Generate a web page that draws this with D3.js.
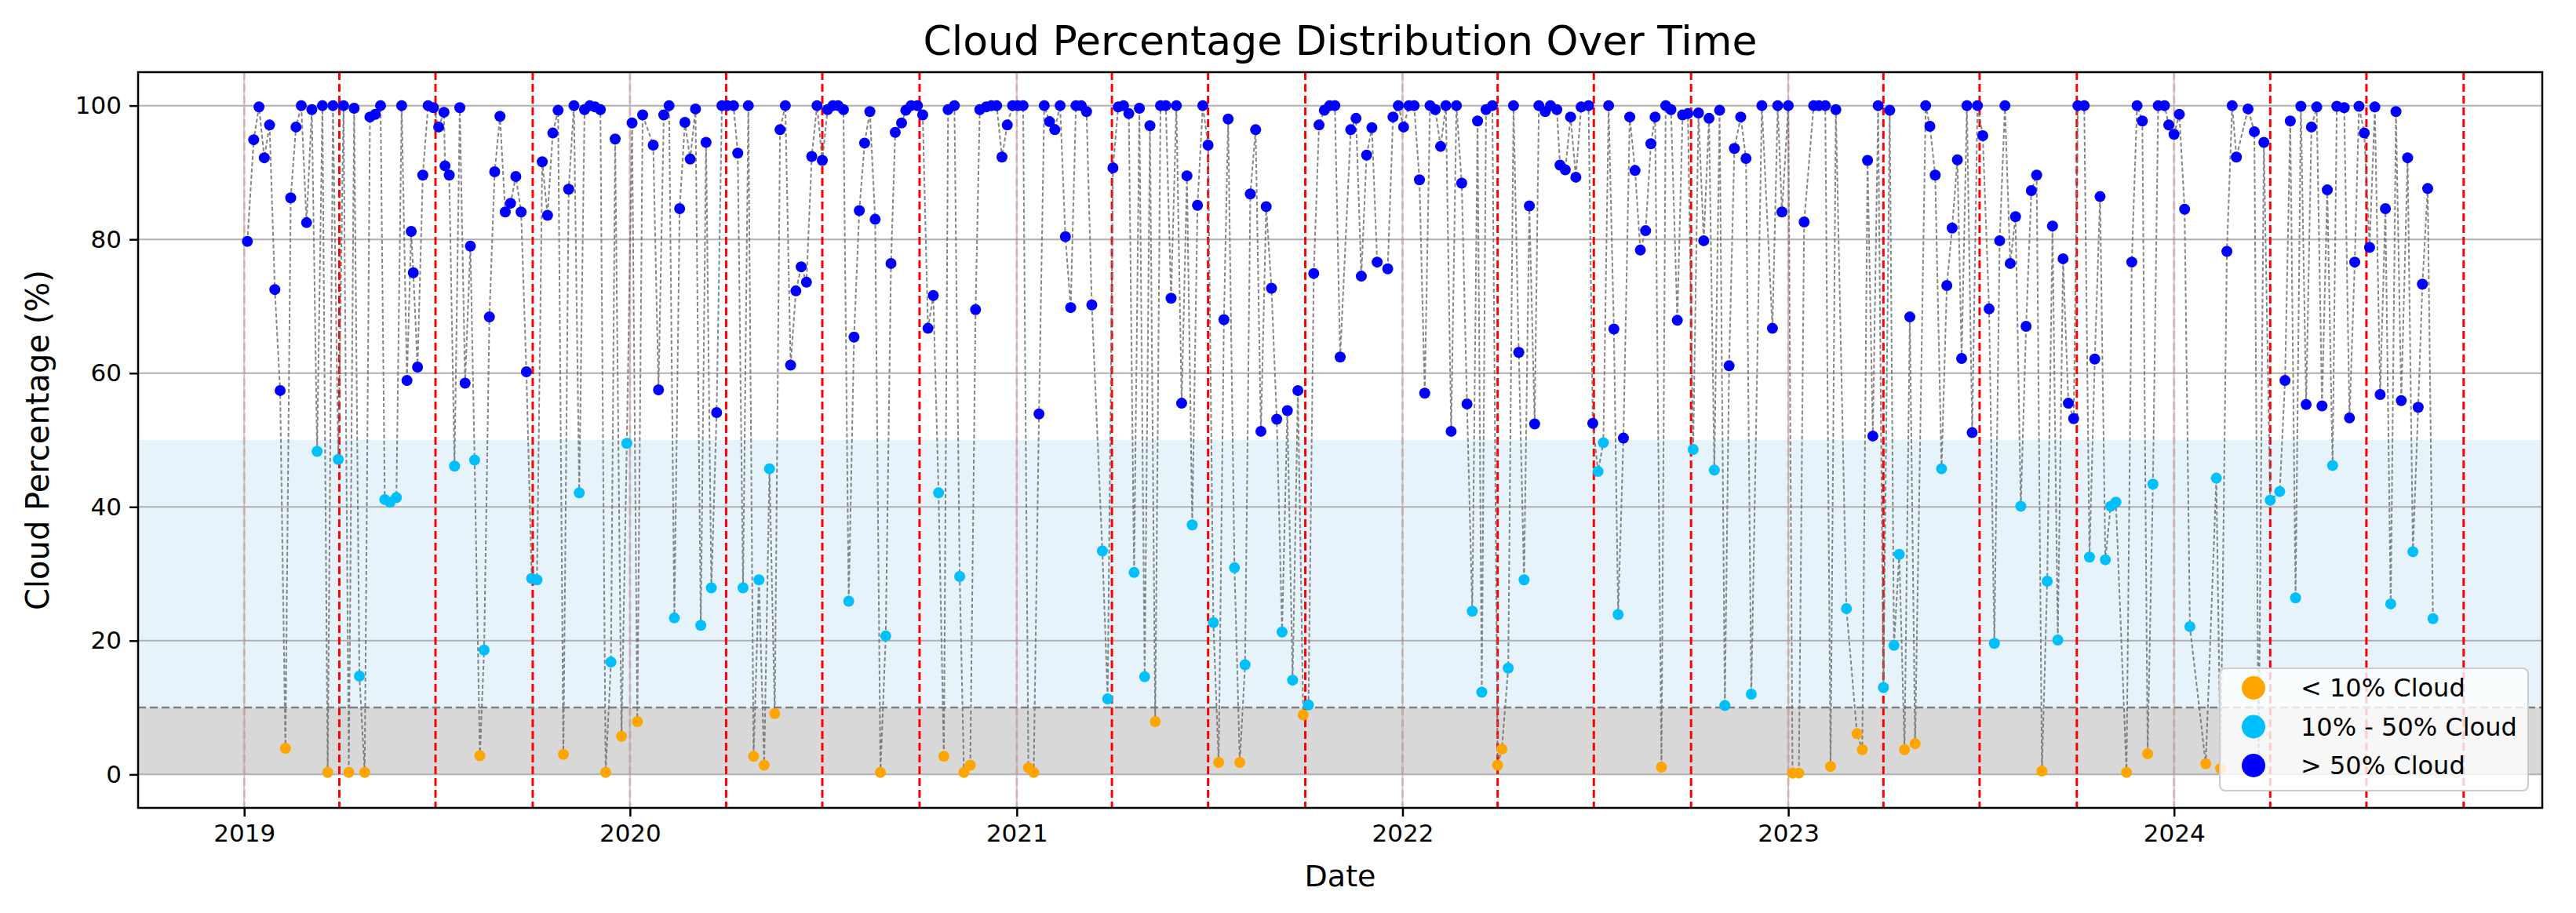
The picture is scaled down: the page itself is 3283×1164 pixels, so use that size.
<!DOCTYPE html>
<html>
<head>
<meta charset="utf-8">
<script src="https://cdn.jsdelivr.net/npm/d3@7"></script>
<style>
body { margin: 0; background: #fff; }
svg { display: block; }
text { font-family: "DejaVu Sans", sans-serif; fill: #000; }
</style>
</head>
<body>
<script>
// observations: [days since 2019-01-01, cloud %]
var startDate = new Date(2019, 0, 1);

var obs2019 = [[3,79.7],[9,94.9],[14,99.8],[19,92.2],[24,97.1],[29,72.5],[34,57.4],[39,3.9],[44,86.2],[49,96.8],[54,100],[59,82.5],[64,99.4],[69,48.3],[74,100],[79,0.3],[84,100],[89,47.1],[94,100],[99,0.3],[104,99.6],[109,14.7],[114,0.3],[119,98.3],[124,98.7],[129,100],[133,41.1],[138,40.7],[144,41.4],[149,100],[154,58.9],[158,81.2],[160,75.0],[164,60.9],[169,89.6],[174,100],[179,99.7],[184,96.8],[189,99.0],[190,91.0],[194,89.6],[199,46.1],[204,99.7],[209,58.5],[214,79.0],[218,47.0],[223,2.8],[227,18.6],[232,68.4],[237,90.1],[242,98.4],[247,84.1],[252,85.4],[257,89.4],[262,84.1],[267,60.2],[272,29.3],[277,29.1],[282,91.6],[287,83.6],[292,95.9],[297,99.3],[302,3.0],[307,87.5],[312,100],[317,42.1],[322,99.4],[327,100],[332,99.8],[337,99.4],[342,0.3],[347,16.8],[351,95.0],[357,5.7],[362,49.5]];

var obs2020 = [[367,97.4],[372,7.9],[377,98.6],[387,94.1],[392,57.5],[397,98.6],[402,100],[407,23.4],[412,84.6],[417,97.5],[422,92.0],[427,99.5],[432,22.3],[437,94.5],[442,27.9],[447,54.1],[452,100],[457,100],[463,100],[467,92.9],[472,27.9],[477,100],[482,2.7],[487,29.1],[492,1.4],[497,45.7],[502,9.1],[507,96.4],[512,100],[517,61.2],[522,72.3],[527,75.9],[532,73.6],[537,92.4],[542,100],[547,91.8],[552,99.4],[557,100],[562,100],[567,99.4],[572,25.9],[577,65.4],[582,84.3],[587,94.4],[592,99.1],[597,83.0],[602,0.3],[607,20.7],[612,76.4],[616,96.0],[622,97.4],[626,99.3],[631,100],[637,100],[642,98.6],[647,66.7],[652,71.6],[657,42.1],[662,2.7],[666,99.4],[672,100],[677,29.6],[681,0.3],[687,1.4],[692,69.5],[696,99.4],[702,99.8],[707,100],[712,100],[717,92.3],[722,97.1],[727,100]];

var obs2021 = [[732,100],[737,100],[742,1.0],[747,0.3],[752,53.9],[757,100],[762,97.6],[767,96.4],[772,100],[777,80.4],[782,69.8],[787,100],[792,100],[797,99.1],[802,70.2],[812,33.4],[817,11.3],[822,90.7],[827,99.8],[832,100],[837,98.8],[842,30.2],[847,99.6],[852,14.6],[857,97.0],[862,7.9],[867,100],[872,100],[877,71.2],[882,100],[887,55.5],[892,89.5],[897,37.3],[902,85.1],[907,100],[912,94.1],[917,22.7],[922,1.8],[927,68.0],[931,98.0],[937,30.9],[942,1.8],[947,16.4],[952,86.8],[957,96.4],[962,51.3],[967,84.9],[972,72.7],[977,53.1],[982,21.3],[987,54.4],[992,14.1],[997,57.4],[1002,8.9],[1007,10.4],[1012,74.9],[1017,97.1],[1022,99.3],[1027,100],[1032,100],[1037,62.4],[1047,96.4],[1052,98.1],[1057,74.5],[1062,92.6],[1067,96.7],[1072,76.6],[1082,75.6],[1087,98.3],[1092,100]];

var obs2022 = [[1097,96.8],[1102,100],[1107,100],[1112,88.9],[1117,57.0],[1122,100],[1127,99.4],[1132,93.9],[1137,100],[1142,51.3],[1147,100],[1152,88.4],[1157,55.4],[1162,24.4],[1167,97.7],[1171,12.3],[1175,99.4],[1181,100],[1186,1.4],[1190,3.8],[1196,15.9],[1201,100],[1206,63.1],[1211,29.1],[1216,85.0],[1221,52.4],[1225,100],[1231,99.1],[1236,100],[1242,99.4],[1245,91.1],[1250,90.4],[1255,98.3],[1260,89.3],[1265,99.8],[1272,100],[1276,52.5],[1281,45.3],[1286,49.6],[1291,100],[1296,66.6],[1300,23.9],[1305,50.3],[1311,98.3],[1316,90.3],[1321,78.4],[1326,81.3],[1331,94.3],[1335,98.3],[1341,1.1],[1345,100],[1350,99.4],[1356,67.9],[1361,98.6],[1366,98.8],[1371,48.6],[1376,98.9],[1381,79.8],[1386,98.1],[1391,45.5],[1396,99.3],[1401,10.3],[1405,61.1],[1410,93.6],[1416,98.3],[1421,92.1],[1426,12.0],[1436,100],[1446,66.7],[1451,100],[1455,84.1]];

var obs2023 = [[1461,100],[1465,0.2],[1471,0.2],[1476,82.6],[1485,100],[1490,100],[1496,100],[1501,1.2],[1506,99.4],[1516,24.8],[1526,6.1],[1531,3.7],[1536,91.8],[1541,50.6],[1546,100],[1551,13.0],[1557,99.3],[1561,19.3],[1566,32.9],[1571,3.7],[1576,68.4],[1581,4.6],[1591,100],[1595,96.9],[1600,89.6],[1606,45.7],[1611,73.1],[1616,81.7],[1621,91.9],[1625,62.2],[1630,100],[1635,51.1],[1640,100],[1645,95.5],[1651,69.6],[1656,19.6],[1661,79.8],[1666,100],[1671,76.4],[1676,83.4],[1681,40.1],[1686,67.0],[1691,87.3],[1696,89.6],[1701,0.5],[1706,28.9],[1711,82.0],[1716,20.1],[1721,77.1],[1726,55.5],[1731,53.2],[1735,100],[1741,100],[1746,32.5],[1751,62.1],[1756,86.4],[1761,32.1],[1766,40.1],[1771,40.7],[1781,0.3],[1786,76.6],[1791,100],[1796,97.7],[1801,3.1],[1806,43.4],[1811,100],[1817,100],[1821,97.1]];

var obs2024 = [[1826,95.7],[1831,98.7],[1836,84.5],[1841,22.1],[1856,1.6],[1866,44.3],[1870,0.9],[1876,78.2],[1881,100],[1885,92.3],[1896,99.5],[1902,96.1],[1906,1.0],[1911,94.5],[1917,41.0],[1926,42.3],[1931,58.9],[1936,97.7],[1941,26.4],[1946,99.9],[1951,55.3],[1956,96.8],[1961,99.8],[1966,55.1],[1971,87.4],[1976,46.2],[1980,99.9],[1987,99.7],[1992,53.3],[1997,76.6],[2001,99.9],[2006,95.9],[2011,78.8],[2016,99.8],[2021,56.8],[2026,84.6],[2031,25.5],[2036,99.1],[2041,55.9],[2047,92.2],[2052,33.3],[2057,54.9],[2061,73.3],[2066,87.6],[2071,23.3]];

var classNames = ["< 10% Cloud", "10% - 50% Cloud", "> 50% Cloud"];
var classColors = ["#FFA500", "#00BFFF", "#0000FF"];
var yTicks = [0, 20, 40, 60, 80, 100];
var lowLimit = 10, midLimit = 50;

var W = 3283, H = 1164;
var margin = {top: 92, right: 43, bottom: 134, left: 176};
var width = W - margin.left - margin.right;
var height = H - margin.top - margin.bottom;

var data = [].concat(obs2019, obs2020, obs2021, obs2022, obs2023, obs2024).map(function(d) {
    return {date: d3.timeDay.offset(startDate, d[0]), value: d[1],
            cls: d[1] < lowLimit ? 0 : (d[1] <= midLimit ? 1 : 2)};
});

// matplotlib-like 5% padding on dates
var ext = d3.extent(data, function(d) { return d.date; });
var pad = (ext[1] - ext[0]) * 0.05;
var x = d3.scaleTime()
    .domain([new Date(+ext[0] - pad), new Date(+ext[1] + pad)])
    .range([0, width]);
var y = d3.scaleLinear().domain([-5, 105]).range([height, 0]);

var svg = d3.select("body").append("svg")
    .attr("width", W).attr("height", H);

svg.append("text")
    .attr("x", margin.left + width / 2).attr("y", 70)
    .attr("text-anchor", "middle")
    .style("font-size", "52px")
    .text("Cloud Percentage Distribution Over Time");

var g = svg.append("g")
    .attr("transform", "translate(" + margin.left + "," + margin.top + ")");

g.append("clipPath").attr("id", "clip")
    .append("rect").attr("width", width).attr("height", height);

var plot = g.append("g").attr("clip-path", "url(#clip)");

// shaded bands
plot.append("rect")
    .attr("x", 0).attr("width", width)
    .attr("y", y(midLimit)).attr("height", y(lowLimit) - y(midLimit))
    .attr("fill", "#e6f3fa");
plot.append("rect")
    .attr("x", 0).attr("width", width)
    .attr("y", y(lowLimit)).attr("height", y(0) - y(lowLimit))
    .attr("fill", "#d8d8d8");

// grid
plot.selectAll(".hgrid").data(yTicks).enter().append("line")
    .attr("x1", 0).attr("x2", width)
    .attr("y1", function(d) { return y(d); }).attr("y2", function(d) { return y(d); })
    .attr("stroke", "#b0b0b0").attr("stroke-width", 2);

// quarter marker lines
var quarters = d3.timeMonth.every(3).range(new Date(2019, 0, 1), new Date(2024, 9, 2));
plot.selectAll(".qline").data(quarters).enter().append("line")
    .attr("x1", function(d) { return x(d); }).attr("x2", function(d) { return x(d); })
    .attr("y1", 0).attr("y2", height)
    .attr("stroke", "red").attr("stroke-width", 3)
    .attr("stroke-dasharray", "10,5")
    .attr("opacity", function(d) { return d.getMonth() === 0 ? 0.25 : 1; });

var years = d3.timeYear.range(new Date(2019, 0, 1), new Date(2024, 1, 1));
plot.selectAll(".vgrid").data(years).enter().append("line")
    .attr("x1", function(d) { return x(d); }).attr("x2", function(d) { return x(d); })
    .attr("y1", 0).attr("y2", height)
    .attr("stroke", "#b0b0b0").attr("stroke-width", 2).attr("opacity", 0.7);

// threshold line
plot.append("line")
    .attr("x1", 0).attr("x2", width)
    .attr("y1", y(lowLimit)).attr("y2", y(lowLimit))
    .attr("stroke", "#808080").attr("stroke-width", 2.5)
    .attr("stroke-dasharray", "10,5");

// connecting line
var line = d3.line()
    .x(function(d) { return x(d.date); })
    .y(function(d) { return y(d.value); });
plot.append("path").datum(data)
    .attr("d", line)
    .attr("fill", "none")
    .attr("stroke", "#707070").attr("stroke-width", 2)
    .attr("stroke-dasharray", "5,3")
    .attr("opacity", 0.85);

// points, one layer per class
[0, 1, 2].forEach(function(c) {
    plot.selectAll(".pt" + c)
        .data(data.filter(function(d) { return d.cls === c; }))
        .enter().append("circle")
        .attr("cx", function(d) { return x(d.date); })
        .attr("cy", function(d) { return y(d.value); })
        .attr("r", 7)
        .attr("fill", classColors[c]);
});

// axes
var xAxis = g.append("g")
    .attr("transform", "translate(0," + height + ")")
    .call(d3.axisBottom(x).tickValues(years).tickFormat(d3.timeFormat("%Y")).tickSize(11).tickPadding(10));
var yAxis = g.append("g")
    .call(d3.axisLeft(y).tickValues(yTicks).tickSize(11).tickPadding(10));
[xAxis, yAxis].forEach(function(a) {
    a.select(".domain").remove();
    a.selectAll(".tick line").attr("stroke", "#000").attr("stroke-width", 2.5);
    a.selectAll(".tick text").style("font-size", "31px").attr("font-family", "DejaVu Sans");
});

g.append("rect")
    .attr("width", width).attr("height", height)
    .attr("fill", "none").attr("stroke", "#000").attr("stroke-width", 2.5);

svg.append("text")
    .attr("x", margin.left + width / 2).attr("y", 1130)
    .attr("text-anchor", "middle")
    .style("font-size", "38px")
    .text("Date");

svg.append("text")
    .attr("transform", "translate(62," + (margin.top + height / 2) + ") rotate(-90)")
    .attr("text-anchor", "middle")
    .style("font-size", "40px")
    .text("Cloud Percentage (%)");

// legend
var lg = svg.append("g").attr("transform", "translate(2829,852)");
lg.append("rect")
    .attr("width", 393).attr("height", 156).attr("rx", 7)
    .attr("fill", "#fff").attr("fill-opacity", 0.8)
    .attr("stroke", "#cccccc").attr("stroke-width", 2);
classNames.forEach(function(name, i) {
    var row = lg.append("g").attr("transform", "translate(0," + (25 + i * 49.5) + ")");
    row.append("circle").attr("cx", 43).attr("r", 15).attr("fill", classColors[i]);
    row.append("text").attr("x", 103).attr("dy", "0.35em")
        .style("font-size", "32px").text(name);
});
</script>
</body>
</html>
